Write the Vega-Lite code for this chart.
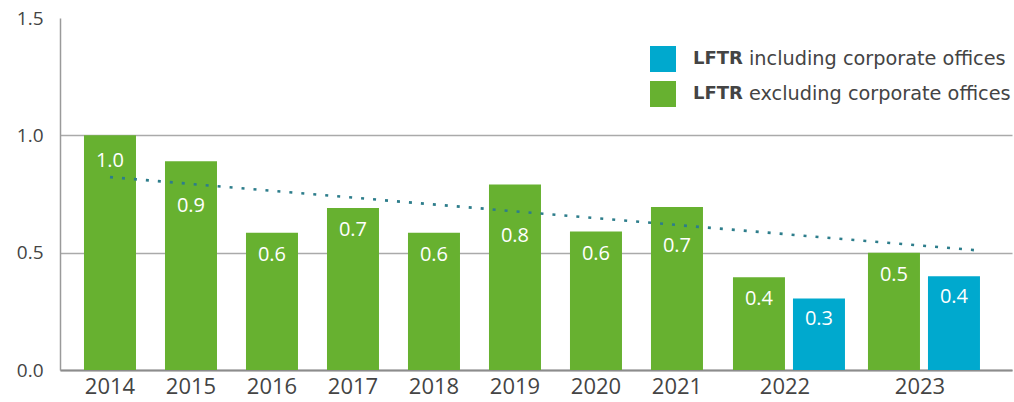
{
  "$schema": "https://vega.github.io/schema/vega-lite/v6.json",
  "width": 952,
  "height": 352,
  "autosize": {"type": "none"},
  "padding": {"left": 60, "top": 18, "right": 2, "bottom": 32},
  "config": {"view": {"stroke": null}, "font": "Open Sans"},
  "data": {
    "values": [
      {"year": "2014", "series": "excl", "value": 1.0},
      {"year": "2015", "series": "excl", "value": 0.89},
      {"year": "2016", "series": "excl", "value": 0.585},
      {"year": "2017", "series": "excl", "value": 0.69},
      {"year": "2018", "series": "excl", "value": 0.585},
      {"year": "2019", "series": "excl", "value": 0.79},
      {"year": "2020", "series": "excl", "value": 0.59},
      {"year": "2021", "series": "excl", "value": 0.695},
      {"year": "2022", "series": "excl", "value": 0.395},
      {"year": "2022", "series": "incl", "value": 0.305},
      {"year": "2023", "series": "excl", "value": 0.5},
      {"year": "2023", "series": "incl", "value": 0.4}
    ]
  },
  "layer": [
    {
      "transform": [{"filter": "datum.series == 'excl' && datum.year <= '2021'"}],
      "mark": {"type": "bar", "width": 52},
      "encoding": {
        "x": {
          "field": "year", "type": "nominal",
          "scale": {
            "type": "band",
            "domain": ["s0","2014","s1","s2","2015","s3","s4","2016","s5","s6","2017","s7","s8","2018","s9","s10","2019","s11","s12","2020","s13","s14","2021","s15","s16","s17","2022","s18","s19","s20","s21","2023","s22","s23"],
            "paddingInner": 0, "paddingOuter": 0.63, "align": 0.279
          },
          "axis": {
            "title": null, "labelAngle": 0, "ticks": false, "grid": false,
            "labelExpr": "indexof(datum.value, 's') == 0 ? '' : datum.value",
            "labelOverlap": false, "labelBound": false,
            "labelFontSize": 22, "labelColor": "#444", "labelFontWeight": 500, "labelPadding": 6,
            "domainColor": "#8c8c8c", "domainWidth": 2
          }
        },
        "y": {
          "field": "value", "type": "quantitative",
          "scale": {"domain": [0, 1.5], "nice": false},
          "axis": {
            "title": null, "values": [0, 0.5, 1, 1.5], "format": ".1f",
            "ticks": false, "tickSize": 0, "labelPadding": 17,
            "labelFontSize": 19, "labelColor": "#444", "labelFontWeight": 500,
            "gridColor": "#aaaaaa", "gridWidth": 1.5,
            "gridOpacity": {"condition": {"test": "datum.value >= 1.4", "value": 0}, "value": 1},
            "domainColor": "#9a9a9a", "domainWidth": 1.5
          }
        },
        "color": {
          "field": "series", "type": "nominal",
          "scale": {"domain": ["incl", "excl"], "range": ["#00a9ce", "#67b130"]},
          "legend": {
            "orient": "none", "legendX": 590, "legendY": 28, "title": null,
            "symbolType": "square", "symbolSize": 676, "symbolStrokeWidth": 0,
            "labelFont": "DejaVu Sans", "labelFontWeight": "bold",
            "labelFontSize": 18, "labelColor": "#444", "labelOffset": 17, "labelLimit": 500,
            "rowPadding": 9, "padding": 0,
            "labelExpr": "'LFTR'"
          }
        },
        "strokeDash": {
          "field": "series", "type": "nominal",
          "scale": {"domain": ["excl", "incl"], "range": [[1, 0], [1, 0]]},
          "legend": {
            "orient": "none", "legendX": 590, "legendY": 28, "title": null,
            "values": ["incl", "excl"],
            "symbolType": "square", "symbolSize": 676, "symbolOpacity": 0, "symbolStrokeWidth": 0,
            "labelFont": "DejaVu Sans", "labelFontSize": 19.3, "labelColor": "#444", "labelOffset": 73, "labelLimit": 500,
            "rowPadding": 9, "padding": 0,
            "labelExpr": "datum.value == 'incl' ? 'including corporate offices' : 'excluding corporate offices'"
          }
        }
      }
    },
    {
      "transform": [{"filter": "datum.series == 'excl' && datum.year >= '2022'"}],
      "mark": {"type": "bar", "width": 52, "xOffset": -26},
      "encoding": {
        "x": {"field": "year", "type": "nominal"},
        "y": {"field": "value", "type": "quantitative"},
        "color": {"field": "series", "type": "nominal"},
        "strokeDash": {"field": "series", "type": "nominal"}
      }
    },
    {
      "transform": [{"filter": "datum.series == 'incl'"}],
      "mark": {"type": "bar", "width": 52, "xOffset": 34},
      "encoding": {
        "x": {"field": "year", "type": "nominal"},
        "y": {"field": "value", "type": "quantitative"},
        "color": {"field": "series", "type": "nominal"},
        "strokeDash": {"field": "series", "type": "nominal"}
      }
    },
    {
      "data": {"values": [{"from": "2014", "to": "2023", "start": 0.822, "end": 0.511}]},
      "mark": {"type": "rule", "color": "#2d7d8b", "strokeWidth": 2.6, "strokeDash": [3, 9], "x2Offset": 54},
      "encoding": {
        "x": {"field": "from", "type": "nominal"},
        "x2": {"field": "to"},
        "y": {"field": "start", "type": "quantitative"},
        "y2": {"field": "end"}
      }
    },
    {
      "transform": [{"filter": "datum.series == 'excl' && datum.year <= '2021'"}],
      "mark": {
        "type": "text", "color": "white", "fontSize": 20, "baseline": "middle",
        "dy": {"expr": "datum.year == '2015' ? 45 : datum.year == '2019' ? 51 : datum.year == '2021' ? 39 : datum.year == '2014' ? 26 : 22"}
      },
      "encoding": {
        "x": {"field": "year", "type": "nominal"},
        "y": {"field": "value", "type": "quantitative"},
        "text": {"field": "value", "type": "quantitative", "format": ".1f"}
      }
    },
    {
      "transform": [{"filter": "datum.series == 'excl' && datum.year >= '2022'"}],
      "mark": {"type": "text", "color": "white", "fontSize": 20, "baseline": "middle", "dy": 22, "xOffset": -26},
      "encoding": {
        "x": {"field": "year", "type": "nominal"},
        "y": {"field": "value", "type": "quantitative"},
        "text": {"field": "value", "type": "quantitative", "format": ".1f"}
      }
    },
    {
      "transform": [{"filter": "datum.series == 'incl'"}],
      "mark": {"type": "text", "color": "white", "fontSize": 20, "baseline": "middle", "dy": 21, "xOffset": 34},
      "encoding": {
        "x": {"field": "year", "type": "nominal"},
        "y": {"field": "value", "type": "quantitative"},
        "text": {"field": "value", "type": "quantitative", "format": ".1f"}
      }
    }
  ]
}
